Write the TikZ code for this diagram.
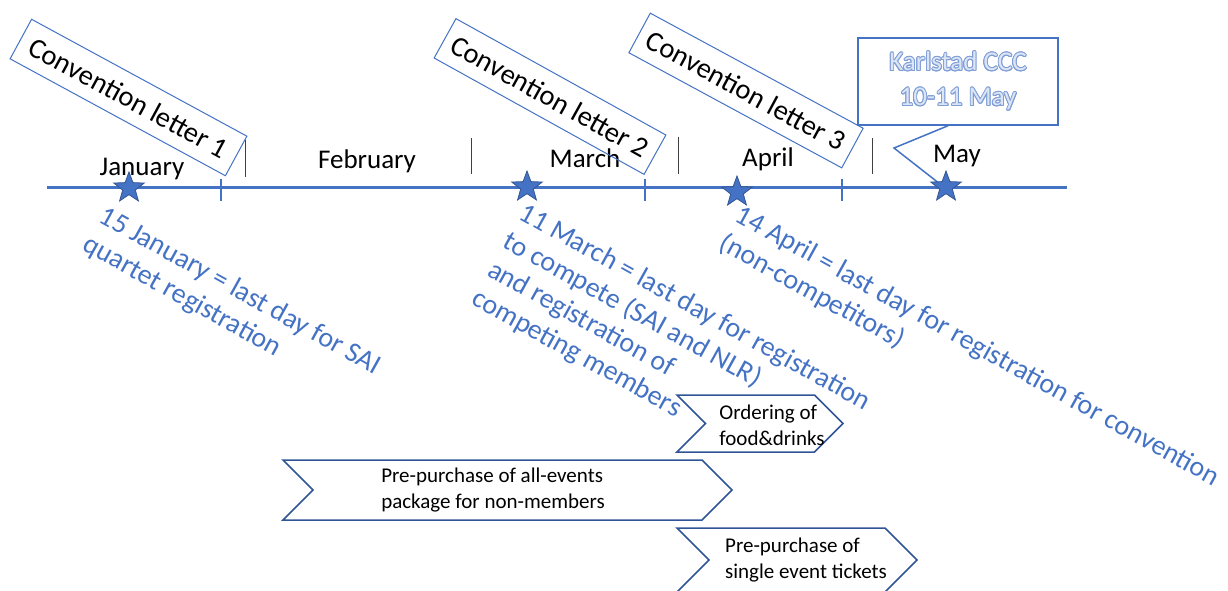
\documentclass[tikz,border=0pt]{standalone}
\usepackage{fontspec}
\setmainfont{Carlito}
\usepackage{contour}
\usetikzlibrary{shapes.geometric,shapes.symbols}
\definecolor{tl}{HTML}{4472C4}
\definecolor{chev}{HTML}{2F5597}
\definecolor{kout}{HTML}{7F9ED6}
\definecolor{kin}{HTML}{DCE5F5}
\contourlength{0.9pt}
\begin{document}
\begin{tikzpicture}[x=1pt,y=-1pt,
  month/.style={anchor=base,inner sep=0,font=\fontsize{27}{32}\selectfont},
  letterbox/.style={draw=tl,line width=1,minimum width=#1,minimum height=45,inner sep=0,font=\fontsize{28.5}{32}\selectfont},
  note/.style={anchor=north west,inner sep=0,align=left,rotate=-29,text=tl,font=\fontsize{28}{32.5}\selectfont},
  chevron/.style={draw=chev,line width=1.5,signal,signal from=west,signal to=east,signal pointer angle=90,inner sep=0},
  chevtext/.style={align=left,inner sep=0,font=\fontsize{21}{26}\selectfont},
  sepline/.style={draw=black!75,line width=1},
  tickline/.style={draw=tl,line width=2.5},
  starnode/.style={star,star points=5,star point ratio=2.4,minimum size=32,inner sep=0,fill=tl,draw=tl!75!black,line width=0.8}
]
\useasboundingbox (0,0) rectangle (1228,590);
\clip (0,0) rectangle (1228,590);

% timeline
\coordinate (tlA) at (47,187);
\coordinate (tlB) at (1067,187);
\draw[tl,line width=3] (tlA) -- (tlB);
\draw[tickline] (221,179) -- (221,201);
\draw[tickline] (645,179) -- (645,201);
\draw[tickline] (842,179) -- (842,201);
\draw[sepline] (245,140) -- (245,177);
\draw[sepline] (471,138) -- (471,174);
\draw[sepline] (678,137) -- (678,174);
\draw[sepline] (872,138) -- (872,174);

% months
\node[month] (jan) at (142,175) {January};
\node[month] (feb) at (367,168) {February};
\node[month] (mar) at (585,167) {March};
\node[month] (apr) at (768,166) {April};
\node[month] (may) at (957,162) {May};

% convention letters
\node[letterbox=245,rotate=-28.5] (cl1) at (128.5,97.5) {Convention letter 1};
\node[letterbox=240,rotate=-29] (cl2) at (550,96.5) {Convention letter 2};
\node[letterbox=242,rotate=-28.4] (cl3) at (746,90.5) {Convention letter 3};

% Karlstad callout
\node[draw=tl,line width=1.5,minimum width=200,minimum height=87,inner sep=0,align=center,
      text=kin,font=\fontsize{27}{35}\selectfont] (kcc) at (958,81.5)
      {\contour{kout}{Karlstad CCC}\\\contour{kout}{10-11 May}};
\coordinate (kbend) at (894,148);
\coordinate (kend) at (940,184);
\draw[tl,line width=1.5] ([xshift=-10]kcc.south) -- (kbend) -- (kend);

% stars
\node[starnode] (s1) at (129,188) {};
\node[starnode] (s2) at (527,187) {};
\node[starnode] (s3) at (737,192) {};
\node[starnode] (s4) at (946,187) {};

% notes
\node[note] (n1) at (107,204) {15 January = last day for SAI\\quartet registration};
\node[note] (n2) at (527,201) {11 March = last day for registration\\to compete (SAI and NLR)\\and registration of\\competing members};
\node[note] (n3) at (743,203) {14 April = last day for registration for convention\\(non-competitors)};

% chevrons
\node[chevron,minimum width=449,minimum height=60] (c1) at (507.5,490) {};
\node[chevtext] (t1) at (493,490) {Pre-purchase of all-events\\package for non-members};
\node[chevron,minimum width=166,minimum height=57] (c2) at (760,423.5) {};
\node[chevtext] (t2) at (772,425) {Ordering of\\food\&drinks};
\node[chevron,minimum width=240,minimum height=64] (c3) at (797,560) {};
\node[chevtext] (t3) at (806,560) {Pre-purchase of\\single event tickets};
\end{tikzpicture}
\end{document}
